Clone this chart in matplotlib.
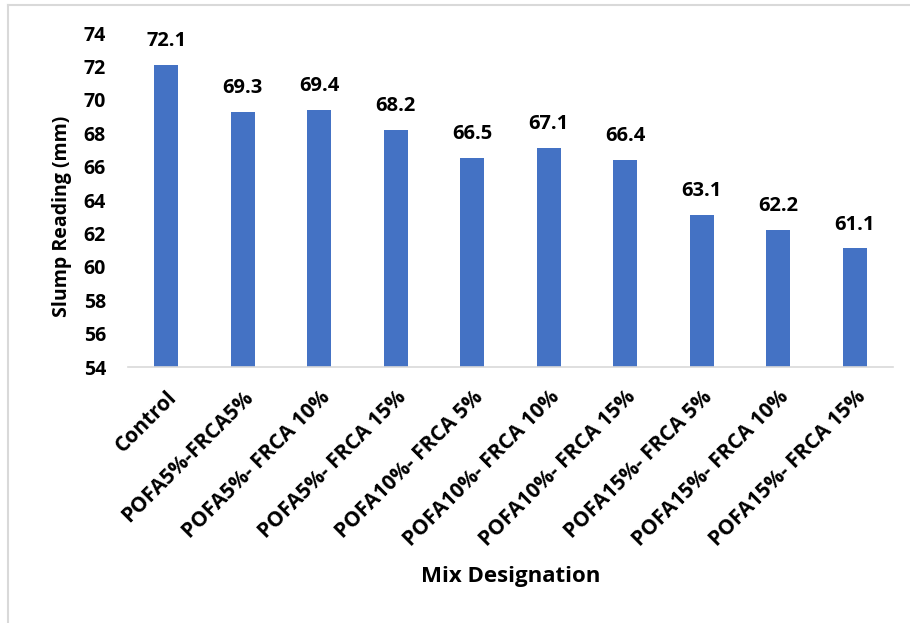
import matplotlib.pyplot as plt
from matplotlib.lines import Line2D

mixes = ["Control", "POFA5%-FRCA5%", "POFA5%- FRCA 10%", "POFA5%- FRCA 15%",
         "POFA10%- FRCA 5%", "POFA10%- FRCA 10%", "POFA10%- FRCA 15%",
         "POFA15%- FRCA 5%", "POFA15%- FRCA 10%", "POFA15%- FRCA 15%"]
slump = [72.1, 69.3, 69.4, 68.2, 66.5, 67.1, 66.4, 63.1, 62.2, 61.1]
y_ticks = [54, 56, 58, 60, 62, 64, 66, 68, 70, 72, 74]

plt.rcParams['font.family'] = ['Open Sans', 'DejaVu Sans']
plt.rcParams['font.weight'] = 'bold'

fig = plt.figure(figsize=(9.1, 6.23), dpi=100)
ax = fig.add_axes([0.1407, 0.4109, 0.8406, 0.5361])

x = range(len(mixes))
ax.bar(x, slump, width=0.31, color='#4472C4')
ax.set_ylim(54, 74)
ax.set_xlim(-0.5, len(mixes) - 0.5)
ax.set_yticks(y_ticks)
ax.set_yticklabels([str(t) for t in y_ticks], fontsize=14, fontweight='bold')
ax.set_xticks(list(x))
ax.set_xticklabels(mixes, rotation=45, ha='right', rotation_mode='anchor',
                   fontsize=15, fontweight='bold')
ax.tick_params(axis='both', length=0)
ax.tick_params(axis='y', pad=16)
ax.tick_params(axis='x', pad=14)

for s in ['top', 'right', 'left']:
    ax.spines[s].set_visible(False)
ax.spines['bottom'].set_color('#D9D9D9')
ax.spines['bottom'].set_linewidth(1.2)

for xi, v in zip(x, slump):
    ax.annotate(f"{v}", (xi, v), xytext=(0, 10), textcoords='offset points',
                ha='center', va='bottom', fontsize=14.5, fontweight='bold',
                annotation_clip=False)

ax.set_ylabel("Slump Reading (mm)", fontsize=14, fontweight='bold')
ax.yaxis.set_label_coords(-0.073, 0.452)
fig.text(0.561, 0.074, "Mix Designation", ha='center', va='center',
         fontsize=16, fontweight='bold')

# chart frame edges
fig.add_artist(Line2D([0.009, 0.009], [0, 0.992], color='#D9D9D9', lw=1.5,
                      transform=fig.transFigure))
fig.add_artist(Line2D([0.009, 1.0], [0.992, 0.992], color='#D9D9D9', lw=1.5,
                      transform=fig.transFigure))

fig.savefig("out.png", dpi=100)
